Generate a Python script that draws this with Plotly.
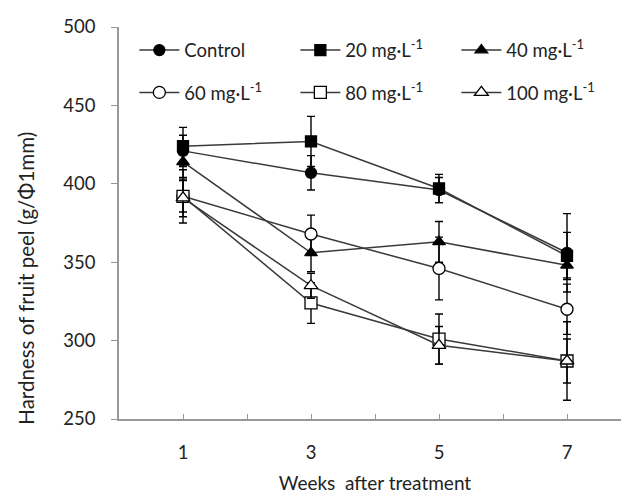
import plotly.graph_objects as go

weeks = [1, 3, 5, 7]
series_names = ["Control", "20 mg·L<sup>-1</sup>", "40 mg·L<sup>-1</sup>",
                "60 mg·L<sup>-1</sup>", "80 mg·L<sup>-1</sup>", "100 mg·L<sup>-1</sup>"]
control = [421, 407, 396, 356]
mg20 = [424, 427, 397, 354]
mg40 = [414, 356, 363, 348]
mg60 = [392, 368, 346, 320]
mg80 = [392, 324, 301, 287]
mg100 = [391, 335, 297, 287]
err_control = [10, 11, 8, 25]
err_mg20 = [12, 16, 9, 15]
err_mg40 = [10, 12, 13, 8]
err_mg60 = [10, 12, 20, 16]
err_mg80 = [17, 13, 16, 25]
err_mg100 = [12, 8, 12, 14]
y_ticks = [250, 300, 350, 400, 450, 500]

values = [control, mg20, mg40, mg60, mg80, mg100]
errors = [err_control, err_mg20, err_mg40, err_mg60, err_mg80, err_mg100]
symbols = ["circle", "square", "triangle-up", "circle-open", "square-open", "triangle-up-open"]
fills = ["black", "black", "black", "white", "white", "white"]
sizes = [11, 11, 11, 12, 12, 12]
legend_ids = ["legend", "legend", "legend", "legend2", "legend2", "legend2"]

fig = go.Figure()
for name, v, e, s, f, sz, lg in zip(series_names, values, errors, symbols, fills, sizes, legend_ids):
    sym = s.replace("-open", "")
    fig.add_trace(go.Scatter(
        x=weeks, y=v, name=name, mode="lines+markers", legend=lg,
        line=dict(color="#3a3a3a", width=1.5),
        marker=dict(symbol=sym, size=sz, color=f, line=dict(color="black", width=1.3)),
        error_y=dict(type="data", array=e, visible=True, color="black", thickness=1.4, width=4),
    ))

leg_common = dict(orientation="h", xanchor="left", yanchor="middle",
                  entrywidth=106, entrywidthmode="pixels", itemwidth=40,
                  font=dict(size=18.5, color="#222"), bgcolor="rgba(0,0,0,0)")

fig.update_layout(
    template="none",
    width=629, height=494,
    margin=dict(l=111, r=6, t=19, b=83),
    plot_bgcolor="white", paper_bgcolor="white",
    font=dict(family="Lato, Open Sans, sans-serif", size=18, color="#222"),
    showlegend=True,
    legend=dict(x=0.03, y=0.94, **leg_common),
    legend2=dict(x=0.03, y=0.832, **leg_common),
    xaxis=dict(range=[0, 8], tickmode="array", tickvals=[1, 2, 3, 4, 5, 6, 7],
               ticktext=["1", "", "3", "", "5", "", "7"], automargin=False,
               ticks="inside", ticklen=5, tickcolor="#999", tickwidth=1.2, showline=True,
               linecolor="#999", linewidth=1.5, showgrid=False, zeroline=False,
               ticklabelstandoff=16,
               title=dict(text="Weeks  after treatment", standoff=15, font=dict(size=19)),
               tickfont=dict(size=18.5)),
    yaxis=dict(range=[250, 500], tickmode="array", tickvals=y_ticks, automargin=False,
               ticks="outside", ticklen=6, tickcolor="#999", tickwidth=1.2, showline=True,
               linecolor="#999", linewidth=1.5, showgrid=False, zeroline=False,
               ticklabelstandoff=12, tickfont=dict(size=18.5)),
    annotations=[dict(text="Hardness of fruit peel (g/Φ1mm)", textangle=-90,
                      xref="paper", yref="paper", x=-0.182, y=0.36,
                      xanchor="center", yanchor="middle", showarrow=False,
                      font=dict(size=20.5, color="#222"))],
)

fig.write_html("out.html")
